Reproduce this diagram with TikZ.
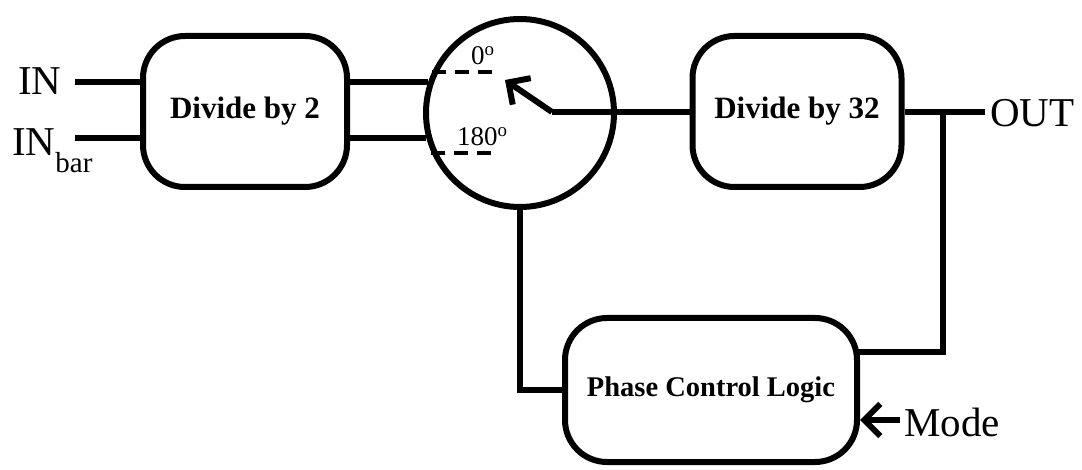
\documentclass[tikz,border=0pt]{standalone}
\usepackage{fontspec}
\setmainfont{Liberation Serif}
\usetikzlibrary{arrows.meta}
\begin{document}
\begin{tikzpicture}[x=1pt,y=-1pt,
  blk/.style={draw, rounded corners=42pt, line width=6pt, inner sep=0pt,
    font=\fontsize{31}{31}\selectfont\bfseries},
  wire/.style={line width=6pt},
  dashln/.style={line width=3.5pt, dash pattern=on 14pt off 9pt},
  lbl/.style={font=\fontsize{41}{41}\selectfont, inner sep=0pt},
  deg/.style={font=\fontsize{27}{27}\selectfont, inner sep=0pt},
  barb/.style={-{Straight Barb[length=#1,width=2*#1]}}]
\useasboundingbox (0,0) rectangle (1082,470);
\fill[white] (0,0) rectangle (1082,470);
% blocks
\node[blk, minimum width=204pt, minimum height=151pt] (div2) at (245,111.5) {Divide by 2};
\node[blk, minimum width=209pt, minimum height=151pt] (div32) at (797,111.5) {Divide by 32};
\node[blk, minimum width=292pt, minimum height=144pt,
  font=\fontsize{28.5}{28.5}\selectfont\bfseries] (plc) at (711,390) {Phase Control Logic};
\node[draw, circle, minimum size=188pt, line width=6pt, inner sep=0pt] (sw) at (520,113) {};
% labels
\node[lbl, anchor=base west] (in) at (18,95) {IN};
\node[lbl, anchor=base west] (inbar) at (12,156) {IN\raisebox{-17pt}{\fontsize{29}{29}\selectfont bar}};
\node[lbl, anchor=west] (out) at (990,113) {OUT};
\node[lbl, anchor=west] (mode) at (904,422) {Mode};
\node[deg, anchor=base west] (l0) at (471,65) {0\textsuperscript{o}};
\node[deg, anchor=base west] (l180) at (457,146) {180\textsuperscript{o}};
% coordinates
\coordinate (inend) at (75,82);
\coordinate (inbarend) at (75,138);
\coordinate (d0) at (498,72);
\coordinate (d180) at (498,153);
\coordinate (piv) at (552,112);
\coordinate (tip) at (505,80);
\coordinate (j) at (943,112);
\coordinate (outend) at (985,112);
\coordinate (fb) at (858,352);
\coordinate (modeend) at (900,420);
% wires
\draw[wire] (inend) -- (div2.west |- inend);
\draw[wire] (inbarend) -- (div2.west |- inbarend);
\draw[wire] (div2.east |- inend) -- (sw.161 |- inend);
\draw[wire] (div2.east |- inbarend) -- (sw.195 |- inbarend);
\draw[dashln] (sw.155 |- d0) -- (d0);
\draw[dashln] (sw.204 |- d180) -- (d180);
\draw[wire, barb=16pt] (piv) -- (tip);
\draw[wire] (piv) -- (div32.west |- piv);
\draw[wire] (div32.east |- j) -- (outend);
\draw[wire] (j) |- (fb);
\draw[wire] (sw.south) |- (plc.west);
\draw[wire, barb=16pt] (modeend) -- (plc.east |- modeend);
\end{tikzpicture}
\end{document}
